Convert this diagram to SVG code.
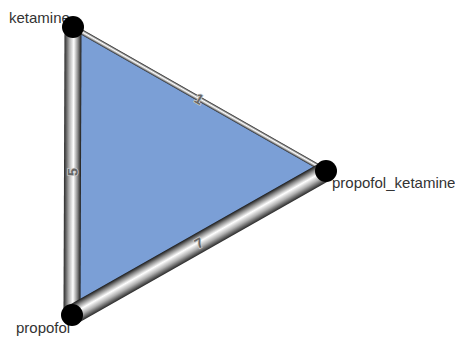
<svg xmlns="http://www.w3.org/2000/svg" width="455" height="337" viewBox="0 0 455 337">
<defs>
<linearGradient id="tube" x1="0" y1="0" x2="0" y2="1">
<stop offset="0" stop-color="#1a1a1a"/>
<stop offset="0.2" stop-color="#8a8a8a"/>
<stop offset="0.45" stop-color="#ffffff"/>
<stop offset="0.7" stop-color="#b0b0b0"/>
<stop offset="1" stop-color="#2a2a2a"/>
</linearGradient>
</defs>
<style>
.lbl{font-family:"Liberation Sans",Arial,sans-serif;font-size:15px;fill:#333}
.el{font-family:"Liberation Sans",Arial,sans-serif;font-size:14px;font-weight:bold;fill:#666;stroke:#ccc;stroke-width:1.5px;paint-order:stroke;text-anchor:middle;dominant-baseline:central}
.node{fill:#000}
</style>
<rect width="455" height="337" fill="#fff"/>
<polygon points="73,27 326,171 72,315" fill="#7b9fd6"/>
<g id="connectors">
<g transform="translate(73,27) rotate(29.65)">
<rect x="0" y="-2.5" width="291" height="5" fill="url(#tube)"/>
<text class="el" x="145" y="0">1</text>
</g>
<g transform="translate(73,27) rotate(90.2)">
<rect x="0" y="-8.5" width="288" height="17" fill="url(#tube)"/>
<text class="el" x="145" y="0" transform="rotate(180 145 0)">5</text>
</g>
<g transform="translate(72,315) rotate(-29.55)">
<rect x="0" y="-10" width="292" height="20" fill="url(#tube)"/>
<text class="el" x="146" y="0">7</text>
</g>
</g>
<g id="node-ketamine">
<text class="lbl" x="9" y="23">ketamine</text>
<circle class="node" cx="73" cy="27" r="11"/>
</g>
<g id="node-propofol_ketamine">
<text class="lbl" x="332" y="188">propofol_ketamine</text>
<circle class="node" cx="326" cy="171" r="11"/>
</g>
<g id="node-propofol">
<text class="lbl" x="16" y="333">propofol</text>
<circle class="node" cx="72" cy="315" r="11"/>
</g>
</svg>
